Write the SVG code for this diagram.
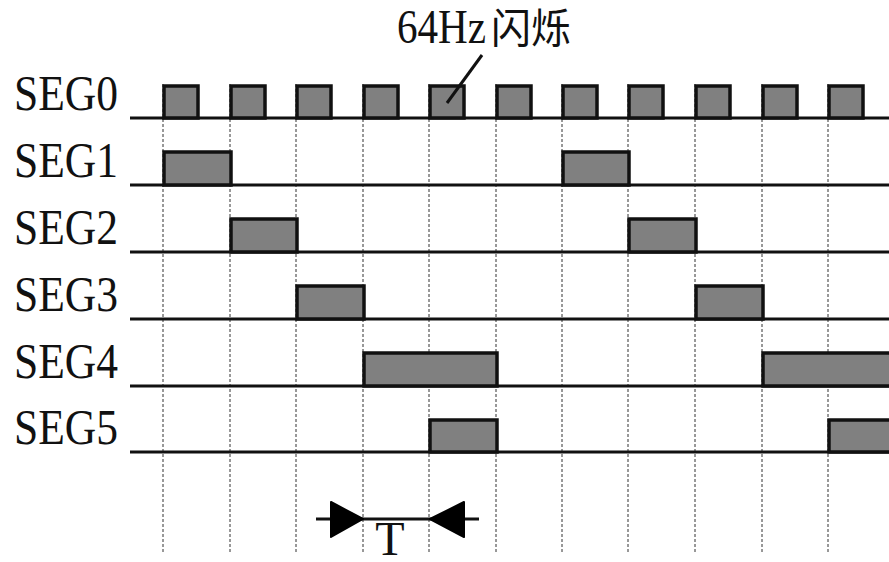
<svg xmlns="http://www.w3.org/2000/svg" width="889" height="562" viewBox="0 0 889 562">
<style>
.lbl{font-family:"Liberation Serif","Noto Sans CJK SC",serif;font-size:51px;fill:#111}
.cap{font-family:"Liberation Serif","Noto Sans CJK SC",serif;font-size:48px;fill:#111}
.cjk{font-family:"Noto Sans CJK SC",sans-serif;font-size:41px;fill:#111}
.base{stroke:#111;stroke-width:3;fill:none}
.pulse{fill:#808080;stroke:#111;stroke-width:3.5;stroke-linejoin:miter}
.grid{stroke:#333;stroke-width:1;stroke-dasharray:3 2;fill:none}
</style>
<rect width="889" height="562" fill="#fff"/>
<g id="grid">
<path class="grid" d="M163 84V552M230 84V552M296 84V552M363 84V552M429 84V552M496 84V552M562 84V552M628 84V552M695 84V552M762 84V552M828 84V552"/>
</g>
<g id="SEG0">
<text class="lbl" x="14" y="110" textLength="104" lengthAdjust="spacingAndGlyphs">SEG0</text>
<line class="base" x1="130" y1="118" x2="889" y2="118"/>
<rect class="pulse" x="164" y="86" width="34" height="32"/>
<rect class="pulse" x="231" y="86" width="34" height="32"/>
<rect class="pulse" x="297" y="86" width="34" height="32"/>
<rect class="pulse" x="364" y="86" width="34" height="32"/>
<rect class="pulse" x="430" y="86" width="34" height="32"/>
<rect class="pulse" x="497" y="86" width="34" height="32"/>
<rect class="pulse" x="563" y="86" width="34" height="32"/>
<rect class="pulse" x="629" y="86" width="34" height="32"/>
<rect class="pulse" x="696" y="86" width="34" height="32"/>
<rect class="pulse" x="763" y="86" width="34" height="32"/>
<rect class="pulse" x="829" y="86" width="34" height="32"/>
</g>
<g id="SEG1">
<text class="lbl" x="14" y="177" textLength="104" lengthAdjust="spacingAndGlyphs">SEG1</text>
<line class="base" x1="130" y1="185" x2="889" y2="185"/>
<rect class="pulse" x="164" y="152" width="67" height="33"/>
<rect class="pulse" x="563" y="152" width="66" height="33"/>
</g>
<g id="SEG2">
<text class="lbl" x="14" y="244" textLength="104" lengthAdjust="spacingAndGlyphs">SEG2</text>
<line class="base" x1="130" y1="252" x2="889" y2="252"/>
<rect class="pulse" x="231" y="219" width="66" height="33"/>
<rect class="pulse" x="629" y="219" width="67" height="33"/>
</g>
<g id="SEG3">
<text class="lbl" x="14" y="311" textLength="104" lengthAdjust="spacingAndGlyphs">SEG3</text>
<line class="base" x1="130" y1="319" x2="889" y2="319"/>
<rect class="pulse" x="297" y="286" width="67" height="33"/>
<rect class="pulse" x="696" y="286" width="67" height="33"/>
</g>
<g id="SEG4">
<text class="lbl" x="14" y="378" textLength="104" lengthAdjust="spacingAndGlyphs">SEG4</text>
<line class="base" x1="130" y1="386" x2="889" y2="386"/>
<rect class="pulse" x="364" y="353" width="133" height="33"/>
<rect class="pulse" x="763" y="353" width="140" height="33"/>
</g>
<g id="SEG5">
<text class="lbl" x="14" y="444" textLength="104" lengthAdjust="spacingAndGlyphs">SEG5</text>
<line class="base" x1="130" y1="452" x2="889" y2="452"/>
<rect class="pulse" x="430" y="420" width="67" height="32"/>
<rect class="pulse" x="829" y="420" width="70" height="32"/>
</g>
<g id="label64">
<text class="cap" x="397" y="43" textLength="89" lengthAdjust="spacingAndGlyphs">64Hz</text>
<text class="cjk" x="491" y="43" textLength="80" lengthAdjust="spacingAndGlyphs">闪烁</text>
<line x1="482" y1="55" x2="447" y2="103" stroke="#111" stroke-width="3"/>
</g>
<g id="period">
<line x1="316" y1="519" x2="479" y2="519" stroke="#111" stroke-width="3"/>
<polygon points="331,502 363,519 331,537" fill="#000" stroke="#000" stroke-width="2" stroke-linejoin="round"/>
<polygon points="464,502 430,519 464,537" fill="#000" stroke="#000" stroke-width="2" stroke-linejoin="round"/>
<text class="cap" x="390" y="555" text-anchor="middle">T</text>
</g>
</svg>
